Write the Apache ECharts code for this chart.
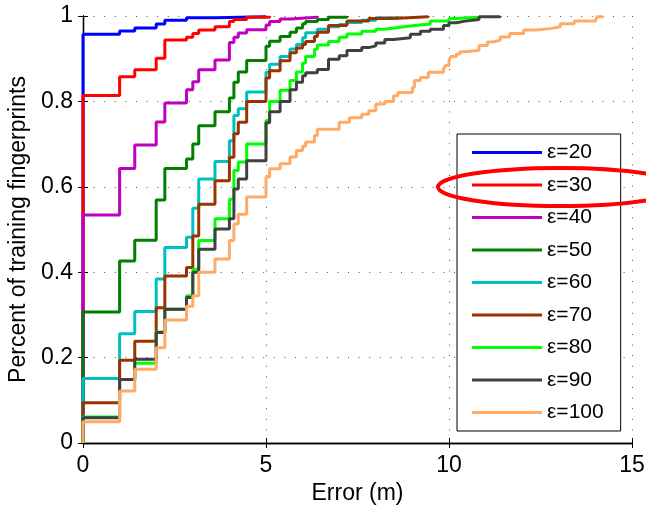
<!DOCTYPE html>
<html><head><meta charset="utf-8">
<script src="https://cdn.jsdelivr.net/npm/echarts@6/dist/echarts.min.js"></script>
<style>html,body{margin:0;padding:0;background:#fff}#c{width:646px;height:506px}</style>
</head><body><div id="c"></div>
<script>
const seriesNames = ['ε=20','ε=30','ε=40','ε=50','ε=60','ε=70','ε=80','ε=90','ε=100'];
const seriesColors = ['#0000FF','#FF0000','#BF00BF','#007F00','#00BFBF','#993300','#00FF00','#404040','#FFAA66'];
const xTicks = [0,5,10,15];
const yTicks = [0,0.2,0.4,0.6,0.8,1];

const eps20 = [[0,0],[0,0.957],[1,0.965],[1.414,0.972],[2,0.981],[2.236,0.99],[2.828,0.996],[3.606,0.998],[5,1]];
const eps30 = [[0,0],[0,0.814],[1,0.858],[1.414,0.874],[2,0.901],[2.236,0.944],[2.828,0.95],[3,0.959],[3.162,0.967],[3.606,0.975],[4,0.987],[4.123,0.992],[4.472,0.997],[5.099,1]];
const eps40 = [[0,0],[0,0.534],[1,0.643],[1.414,0.698],[2,0.752],[2.236,0.796],[2.828,0.827],[3,0.846],[3.162,0.874],[3.606,0.897],[4,0.938],[4.123,0.95],[4.243,0.96],[4.472,0.968],[5,0.979],[5.099,0.987],[5.385,0.993],[5.657,0.997],[6.403,1]];
const eps50 = [[0,0],[0,0.307],[1,0.426],[1.414,0.475],[2,0.569],[2.236,0.643],[2.828,0.665],[3,0.70],[3.162,0.743],[3.606,0.776],[4,0.808],[4.123,0.845],[4.243,0.869],[4.472,0.896],[5,0.929],[5.099,0.941],[5.385,0.952],[5.657,0.962],[5.831,0.972],[6,0.982],[6.083,0.987],[6.403,0.992],[6.708,0.997],[7.211,1]];
const eps60 = [[0,0],[0,0.151],[1,0.256],[1.414,0.308],[2,0.384],[2.236,0.458],[2.828,0.482],[3,0.55],[3.162,0.618],[3.606,0.659],[4,0.708],[4.123,0.767],[4.243,0.783],[4.472,0.822],[5,0.868],[5.099,0.887],[5.385,0.905],[5.657,0.923],[5.831,0.933],[6,0.949],[6.083,0.961],[6.403,0.969],[6.708,0.975],[7,0.98],[7.211,0.985],[7.616,0.99],[8,0.996],[8.602,1]];
const eps70 = [[0,0],[0,0.094],[1,0.194],[1.414,0.238],[2,0.317],[2.236,0.391],[2.828,0.411],[3,0.485],[3.162,0.559],[3.606,0.614],[4,0.669],[4.123,0.724],[4.243,0.751],[4.472,0.80],[5,0.855],[5.099,0.872],[5.385,0.895],[5.657,0.914],[5.831,0.925],[6,0.933],[6.083,0.94],[6.325,0.952],[6.403,0.962],[6.708,0.978],[7.211,0.988],[7.81,0.994],[8.485,0.998],[9.434,1]];
const eps80 = [[0,0],[0,0.061],[1,0.149],[1.414,0.187],[2,0.26],[2.236,0.313],[2.828,0.345],[3,0.407],[3.162,0.474],[3.606,0.525],[4,0.571],[4.123,0.638],[4.243,0.658],[4.472,0.70],[5,0.755],[5.099,0.80],[5.385,0.826],[5.657,0.849],[5.831,0.869],[6,0.89],[6.083,0.905],[6.325,0.922],[6.403,0.932],[6.708,0.94],[7,0.95],[7.211,0.958],[7.616,0.964],[8,0.969],[8.246,0.973],[8.602,0.977],[9,0.981],[9.487,0.988],[10,0.994],[10.2,0.997],[10.77,1]];
const eps90 = [[0,0],[0,0.059],[1,0.149],[1.414,0.196],[2,0.259],[2.236,0.313],[2.828,0.341],[3,0.40],[3.162,0.454],[3.606,0.501],[4,0.525],[4.123,0.595],[4.243,0.618],[4.472,0.661],[5,0.75],[5.099,0.776],[5.385,0.80],[5.657,0.827],[5.831,0.845],[6,0.86],[6.083,0.867],[6.403,0.875],[6.708,0.899],[7,0.907],[7.211,0.919],[7.616,0.926],[7.81,0.93],[8,0.937],[8.246,0.945],[8.485,0.949],[8.944,0.957],[9.22,0.964],[9.487,0.969],[9.849,0.978],[10,0.984],[10.2,0.988],[10.44,0.992],[10.82,0.998],[11.4,1]];
const eps100 = [[0,0],[0,0.05],[1,0.122],[1.414,0.173],[2,0.223],[2.236,0.288],[2.828,0.32],[3,0.345],[3.162,0.40],[3.606,0.431],[4,0.474],[4.123,0.513],[4.243,0.536],[4.472,0.576],[5,0.623],[5.099,0.642],[5.385,0.654],[5.657,0.67],[5.831,0.685],[6,0.695],[6.083,0.705],[6.325,0.72],[6.403,0.735],[7,0.751],[7.28,0.762],[7.616,0.77],[7.81,0.778],[8,0.794],[8.246,0.80],[8.485,0.813],[8.602,0.821],[9,0.833],[9.055,0.849],[9.22,0.856],[9.434,0.868],[9.849,0.876],[9.899,0.884],[10,0.896],[10.05,0.905],[10.2,0.911],[10.3,0.916],[10.44,0.92],[10.82,0.931],[11.05,0.939],[11.18,0.943],[11.4,0.951],[11.66,0.959],[12.04,0.967],[12.37,0.971],[12.81,0.975],[13.04,0.982],[13.42,0.988],[14,0.99],[14.04,0.998],[14.21,1]];
const seriesData = [eps20,eps30,eps40,eps50,eps60,eps70,eps80,eps90,eps100];

const FONT = "'Liberation Sans', Arial, Helvetica, sans-serif";
const chart = echarts.init(document.getElementById('c'), null, {renderer:'canvas'});
const gridLine = {show:true, lineStyle:{color:'#555', width:1, type:[1,9.6]}};
const option = {
  animation:false,
  backgroundColor:'#fff',
  grid:{left:83, right:14, top:16, bottom:63, outerBoundsMode:'none', containLabel:false},
  xAxis:[
    {type:'value', min:xTicks[0], max:xTicks[xTicks.length-1], interval:5,
     name:'Error (m)', nameLocation:'middle', nameGap:38,
     nameTextStyle:{fontFamily:FONT, fontSize:23, color:'#000'},
     axisLine:{show:true, lineStyle:{color:'#000', width:1.3}},
     axisTick:{show:true, inside:true, length:5, lineStyle:{color:'#000'}},
     axisLabel:{fontFamily:FONT, fontSize:23, color:'#000', margin:11},
     splitLine:gridLine},
    {type:'value', position:'top', min:0, max:15, interval:5,
     axisLine:{show:true, lineStyle:{color:'#000', width:1.3}},
     axisTick:{show:true, inside:true, length:5, lineStyle:{color:'#000'}},
     axisLabel:{show:false}, splitLine:{show:false}}
  ],
  yAxis:[
    {type:'value', min:yTicks[0], max:yTicks[yTicks.length-1], interval:0.2,
     name:'Percent of training fingerprints', nameLocation:'middle', nameGap:49,
     nameTextStyle:{fontFamily:FONT, fontSize:23, color:'#000'},
     axisLine:{show:true, lineStyle:{color:'#000', width:1.3}},
     axisTick:{show:true, inside:true, length:5, lineStyle:{color:'#000'}},
     axisLabel:{fontFamily:FONT, fontSize:23, color:'#000', margin:10},
     splitLine:gridLine},
    {type:'value', position:'right', min:0, max:1, interval:0.2,
     axisLine:{show:true, lineStyle:{color:'#000', width:1.3}},
     axisTick:{show:true, inside:true, length:5, lineStyle:{color:'#000'}},
     axisLabel:{show:false}, splitLine:{show:false}}
  ],
  legend:{
    orient:'vertical', left:457, top:134,
    backgroundColor:'#fff', borderColor:'#000', borderWidth:1,
    padding:[8,17,8,15], itemGap:11.5, itemWidth:70, itemHeight:3, icon:'rect',
    textStyle:{fontFamily:FONT, fontSize:21, color:'#000', lineHeight:21},
    data:seriesNames
  },
  graphic:[{type:'ellipse', shape:{cx:560, cy:187, rx:122, ry:19}, z:100,
    style:{fill:'none', stroke:'#FF0000', lineWidth:4}}],
  series: seriesNames.map((n,i)=>({
    name:n, type:'line', step:'end', data:seriesData[i], showSymbol:false, symbol:'none',
    color:seriesColors[i], lineStyle:{color:seriesColors[i], width:3}, z:2+i
  }))
};
chart.setOption(option);
</script></body></html>
